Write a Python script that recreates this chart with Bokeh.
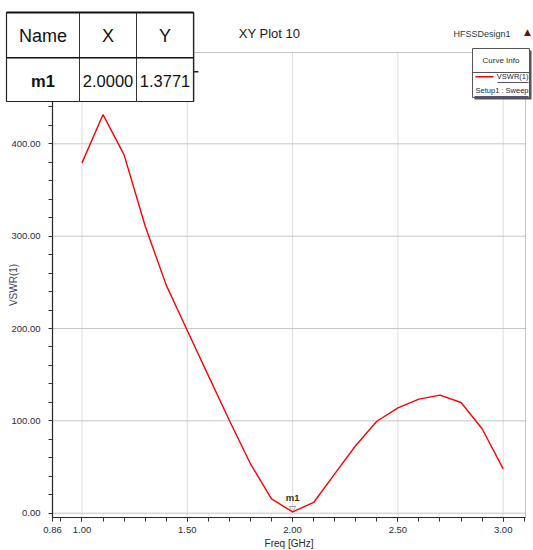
from bokeh.plotting import figure
from bokeh.models import Range1d, FixedTicker, PrintfTickFormatter, Label, BoxAnnotation
from bokeh.core.properties import value
from bokeh.embed import file_html
from bokeh.resources import INLINE

# ---------------- data ----------------
freq_ghz = [1.0, 1.1, 1.2, 1.3, 1.4, 1.5, 1.6, 1.7, 1.8, 1.9, 2.0,
            2.1, 2.2, 2.3, 2.4, 2.5, 2.6, 2.7, 2.8, 2.9, 3.0]
vswr = [379.4, 431.7, 388.0, 311.0, 247.0, 197.8, 149.0, 100.4, 53.5, 15.6, 1.3771,
        11.6, 42.6, 73.3, 99.6, 114.0, 123.5, 127.8, 119.9, 91.4, 48.0]

x_major_ticks = [0.86, 1.0, 1.5, 2.0, 2.5, 3.0]
x_minor_ticks = [0.9, 1.0, 1.1, 1.2, 1.3, 1.4, 1.5, 1.6, 1.7, 1.8, 1.9, 2.0,
                 2.1, 2.2, 2.3, 2.4, 2.5, 2.6, 2.7, 2.8, 2.9, 3.0, 3.1]
x_grid_lines = [1.0, 1.5, 2.0, 2.5, 3.0]
y_major_ticks = [0, 100, 200, 300, 400]
y_minor_ticks = [20, 40, 60, 80, 120, 140, 160, 180, 220, 240, 260, 280,
                 320, 340, 360, 380, 420, 440, 460, 480]

marker_name = "m1"
marker_x = [2.0]
marker_y = [1.3771]
table_header = ["Name", "X", "Y"]

plot_title = "XY Plot 10"
design_name = "HFSSDesign1"
legend_title = "Curve Info"
trace_name = "VSWR(1)"
sweep_name = "Setup1 : Sweep"
x_label = "Freq [GHz]"
y_label = "VSWR(1)"

# plotted area (data units)
x_lo, x_hi = 0.86, 3.106
y_lo, y_hi = -4.66, 498.9

# ---------------- layout (page pixels) ----------------
W, H = 533, 550
FL, FR, FT, FB = 52, 525, 52, 517   # plotted-area edges in page pixels
FONT = "Liberation Sans"

kx = (FR - FL) / (x_hi - x_lo)
ky = (FB - FT) / (y_hi - y_lo)
x_start, x_end = x_lo - FL / kx, x_hi + (W - FR) / kx
y_start, y_end = y_lo - (H - FB) / ky, y_hi + FT / ky


def sx(px):
    return px


def sy(py):
    return H - py


p = figure(width=W, height=H, output_backend="svg", toolbar_location=None,
           x_range=Range1d(x_start, x_end), y_range=Range1d(y_start, y_end),
           min_border=0)
p.background_fill_color = "white"
p.border_fill_color = "white"
p.outline_line_color = None
p.xgrid.visible = False
p.ygrid.visible = False

# grid lines (light), limited to the plotted area
p.segment(x0=x_grid_lines, x1=x_grid_lines, y0=[y_lo] * len(x_grid_lines),
          y1=[y_hi] * len(x_grid_lines), line_color="#dedede", line_width=1)
p.segment(x0=[x_lo] * len(y_major_ticks), x1=[x_hi] * len(y_major_ticks),
          y0=y_major_ticks, y1=y_major_ticks, line_color="#c6c6c6", line_width=1)

# plotted-area border
p.add_layout(BoxAnnotation(left=x_lo, right=x_hi, bottom=y_lo, top=y_hi,
                           fill_alpha=0, line_color="#3a3a3a", line_width=1, level="guide"))

# axes
p.xaxis.fixed_location = y_lo
p.yaxis.fixed_location = x_lo
p.xaxis.bounds = (x_lo, x_hi)
p.yaxis.bounds = (y_lo, y_hi)
p.xaxis.ticker = FixedTicker(ticks=x_major_ticks, minor_ticks=x_minor_ticks)
p.yaxis.ticker = FixedTicker(ticks=y_major_ticks, minor_ticks=y_minor_ticks)
p.xaxis.formatter = PrintfTickFormatter(format="%.2f")
p.yaxis.formatter = PrintfTickFormatter(format="%.2f")
for ax in (p.xaxis, p.yaxis):
    ax.axis_line_color = "#1e1e1e"
    ax.axis_line_width = 1.2
    ax.major_tick_line_color = "#333333"
    ax.minor_tick_line_color = "#333333"
    ax.major_tick_out = 4
    ax.major_tick_in = 0
    ax.minor_tick_out = 4
    ax.minor_tick_in = 0
    ax.major_label_text_font = FONT
    ax.major_label_text_font_size = "9.5px"
    ax.major_label_text_color = "#2a2a40"
    ax.axis_label_text_font = FONT
    ax.axis_label_text_font_size = "10px"
    ax.axis_label_text_font_style = "normal"
p.xaxis.axis_label = x_label
p.xaxis.axis_label_text_color = "#2a2a2a"
p.xaxis.major_label_standoff = 5
p.xaxis.axis_label_standoff = 2
p.yaxis.axis_label = y_label
p.yaxis.axis_label_text_color = "#404066"
p.yaxis.major_label_standoff = 8
p.yaxis.axis_label_standoff = -11

# curve
p.line(freq_ghz, vswr, line_color="#ff0000", line_width=1.4)

# marker m1
p.text(x=marker_x, y=marker_y, text=["\u25BD"], text_align="center",
       text_baseline="bottom", text_font_size="9px", text_color="#606060",
       y_offset=2, text_font=value("DejaVu Sans"))
p.text(x=marker_x, y=marker_y, text=[marker_name], text_align="center",
       text_baseline="bottom", text_font_size="9.5px", text_font_style="bold",
       text_color="#333322", y_offset=-9, text_font=value(FONT))


def box(l, t, r, b, fill="white", line=None, lw=1.0, level="overlay"):
    p.add_layout(BoxAnnotation(left=sx(l), right=sx(r), top=sy(t), bottom=sy(b),
                               left_units="screen", right_units="screen",
                               top_units="screen", bottom_units="screen",
                               fill_color=fill, fill_alpha=1.0,
                               line_color=line if line else "white", line_width=lw,
                               line_alpha=1.0 if line else 0.0, level=level))


def label(px, py, text, size, color="#111111", align="center", style="normal", font=FONT):
    p.add_layout(Label(x=sx(px), y=sy(py), x_units="screen", y_units="screen",
                       text=text, text_align=align, text_baseline="middle",
                       text_font=font, text_font_size=size, text_font_style=style,
                       text_color=color, level="overlay"))


# ---------------- marker table ----------------
table_row = [marker_name, "%.4f" % marker_x[0], "%.4f" % marker_y[0]]
col_edges = [6, 79, 136, 193]
row_edges = [12, 57, 101]
box(6, 12, 194, 101, fill="#8a8a8a")                # right-side shade
box(6, 12, 193, 101, fill="white", line="#222222", lw=1.2)
box(6, 11, 193, 13, fill="#111111")                 # thick top border
box(78.5, 12, 79.5, 101, fill="#333333")
box(135.5, 12, 136.5, 101, fill="#333333")
box(6, 56.5, 193, 58, fill="#111111")
box(193, 70.5, 198, 72, fill="#222222")             # side handle
for i in range(3):
    cx = (col_edges[i] + col_edges[i + 1]) / 2
    label(cx, (row_edges[0] + row_edges[1]) / 2 + 1, table_header[i], "18px")
    label(cx, (row_edges[1] + row_edges[2]) / 2 + 1, table_row[i], "16.5px",
          style="bold" if i == 0 else "normal")

# ---------------- titles ----------------
label(269, 33, plot_title, "13px", color="#1a1a1a")
label(510, 33, design_name, "9px", color="#204040", align="right")
label(527, 31, "\u25B2", "9px", color="#6a1010", font="DejaVu Sans")

# ---------------- curve info legend ----------------
box(474, 50, 531, 99, fill="#555555")                # shadow
box(472, 48, 529, 97, fill="white", line="#555555", lw=1)
box(472, 71.5, 529, 72.5, fill="#555555")
label(500.5, 59.5, legend_title, "8px", color="#223322")
box(475, 75.5, 493, 77, fill="#ff0000")
label(528, 75.5, trace_name, "7.5px", color="#1a1a4a", align="right")
box(497, 81.5, 528, 82.3, fill="#1a1a4a")
label(528, 89.5, sweep_name, "7.5px", color="#1a1a4a", align="right")
box(474, 95.5, 528, 96.3, fill="#1a1a4a")

open("out.html", "w").write(file_html(p, INLINE))
